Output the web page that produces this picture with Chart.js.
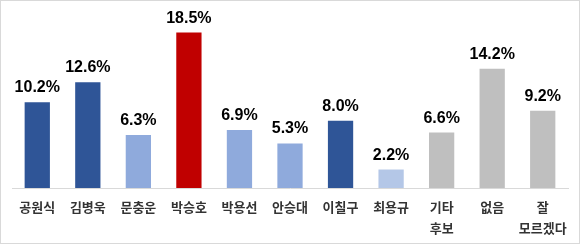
<!DOCTYPE html>
<html>
<head>
<meta charset="utf-8">
<script src="https://cdn.jsdelivr.net/npm/chart.js@4/dist/chart.umd.min.js"></script>
<style>
html,body{margin:0;padding:0;background:#fff;}
#wrap{width:578px;height:242px;border:1px solid #d9d9d9;position:relative;}
</style>
</head>
<body>
<div id="wrap"><canvas id="pollChart" width="578" height="242"></canvas></div>
<script>
// 후보별 지지율 (%)
const categories = ['공원식','김병욱','문충운','박승호','박용선','안승대','이칠구','최용규',['기타','후보'],'없음',['잘','모르겠다']];
const values = [10.2,12.6,6.3,18.5,6.9,5.3,8.0,2.2,6.6,14.2,9.2];
const barColors = ['#2F5597','#2F5597','#8FAADC','#C00000','#8FAADC','#8FAADC','#2F5597','#B4C7E7','#BFBFBF','#BFBFBF','#BFBFBF'];

// draw value on top of each bar
const valueLabels = {
id:'valueLabels',
afterDatasetsDraw(chart){
const ctx = chart.ctx;
const meta = chart.getDatasetMeta(0);
ctx.save();
ctx.font = 'bold 16px "Liberation Sans", Arial, sans-serif';
ctx.fillStyle = '#000';
ctx.textAlign = 'center';
ctx.textBaseline = 'alphabetic';
meta.data.forEach((bar,i)=>{
ctx.fillText(values[i].toFixed(1)+'%', bar.x, bar.y-10);
});
ctx.restore();
}
};

new Chart(document.getElementById('pollChart'),{
type:'bar',
data:{
labels:categories,
datasets:[{
data:values,
backgroundColor:barColors,
barPercentage:0.5,
categoryPercentage:1
}]
},
options:{
responsive:false,
animation:false,
layout:{padding:{left:11,right:11,top:19,bottom:4}},
plugins:{legend:{display:false},tooltip:{enabled:false}},
scales:{
x:{
grid:{display:false,drawTicks:false},
border:{display:true,color:'#d9d9d9',width:1},
afterFit(scale){ scale.height = 51; },
ticks:{
padding:8,
maxRotation:0,
autoSkip:false,
color:'#333',
font:{family:'"Noto Sans CJK KR", sans-serif',size:13,weight:'bold',lineHeight:1.65}
}
},
y:{
display:false,
min:0,
max:20
}
}
},
plugins:[valueLabels]
});
</script>
</body>
</html>
